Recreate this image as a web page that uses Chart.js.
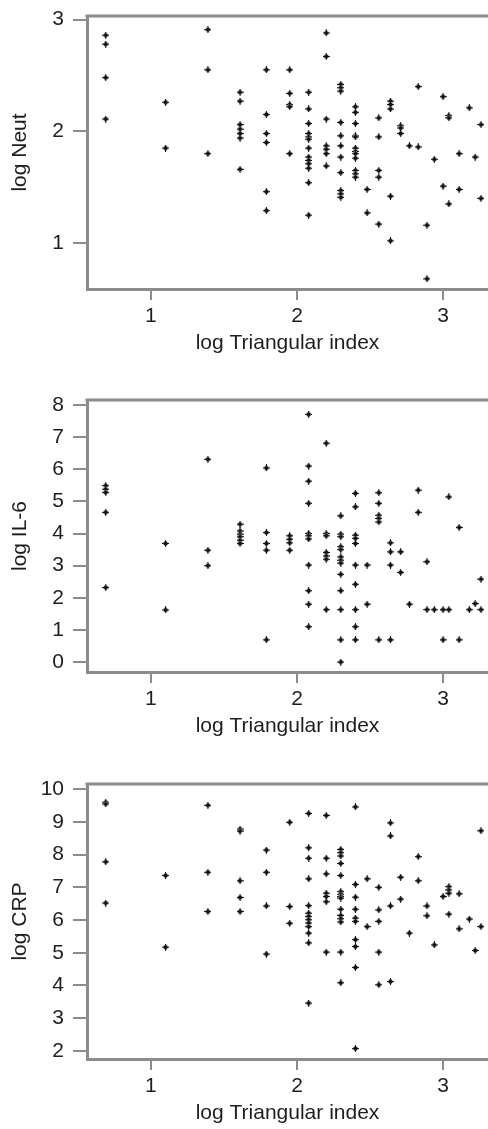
<!DOCTYPE html>
<html>
<head>
<meta charset="utf-8">
<script src="https://cdn.jsdelivr.net/npm/chart.js@4.4.1/dist/chart.umd.min.js"></script>
<style>
  html, body { margin: 0; padding: 0; background: #fff; }
  body { width: 488px; height: 1129px; position: relative; overflow: hidden; }
  canvas { position: absolute; left: 0; }
</style>
</head>
<body>
<canvas id="neut" width="488" height="364" style="top:0px"></canvas>
<canvas id="il6" width="488" height="383" style="top:364px"></canvas>
<canvas id="crp" width="488" height="387" style="top:747px"></canvas>
<script>
// x: log triangular index (one column of points per value)
const triIndex = [0.69, 1.10, 1.39, 1.61, 1.79, 1.95, 2.08, 2.20, 2.30, 2.40, 2.48, 2.56,
  2.64, 2.71, 2.77, 2.83, 2.89, 2.94, 3.00, 3.04, 3.11, 3.18, 3.22, 3.26];

// y values
const logNeut = [
  [2.86, 2.78, 2.48, 2.11],
  [2.26, 1.85],
  [2.91, 2.55, 1.80],
  [2.35, 2.27, 2.06, 2.02, 1.98, 1.94, 1.66],
  [2.55, 2.15, 1.98, 1.90, 1.46, 1.29],
  [2.55, 2.34, 2.24, 2.22, 1.80],
  [2.35, 2.20, 2.07, 1.98, 1.95, 1.93, 1.85, 1.77, 1.74, 1.71, 1.67, 1.54, 1.25],
  [2.88, 2.67, 2.11, 1.87, 1.84, 1.80, 1.69],
  [2.42, 2.39, 2.36, 2.08, 1.96, 1.87, 1.77, 1.63, 1.47, 1.44, 1.41],
  [2.22, 2.17, 2.07, 1.96, 1.95, 1.85, 1.82, 1.80, 1.76, 1.65, 1.62, 1.59],
  [1.48, 1.27],
  [2.12, 1.95, 1.65, 1.59, 1.17],
  [2.27, 2.24, 2.20, 1.42, 1.02],
  [2.05, 2.03, 1.98],
  [1.87],
  [2.40, 1.86],
  [1.16, 0.68],
  [1.75],
  [2.31, 1.51],
  [2.14, 2.12, 1.35],
  [1.80, 1.48],
  [2.21],
  [1.77],
  [2.06, 1.40]
];

const logIL6 = [
  [5.49, 5.38, 5.28, 4.66, 2.32],
  [3.69, 1.62],
  [6.31, 3.48, 3.00],
  [4.29, 4.08, 3.98, 3.90, 3.79, 3.69],
  [6.04, 4.03, 3.69, 3.48, 0.69],
  [3.93, 3.82, 3.71, 3.48],
  [7.71, 6.10, 5.63, 4.94, 4.00, 3.93, 3.83, 3.02, 2.22, 1.80, 1.10],
  [6.81, 4.00, 3.93, 3.41, 3.30, 3.20, 1.63],
  [4.55, 3.98, 3.90, 3.59, 3.50, 3.27, 3.17, 3.08, 2.73, 2.22, 1.63, 0.69, 0.00],
  [5.25, 4.83, 3.95, 3.85, 3.69, 3.02, 2.42, 1.63, 1.10, 0.69],
  [3.02, 1.80],
  [5.27, 4.94, 4.57, 4.47, 4.36, 0.69],
  [3.71, 3.43, 3.02, 0.69],
  [3.43, 2.79],
  [1.80],
  [5.35, 4.66],
  [3.12, 1.63],
  [1.63],
  [1.63, 0.69],
  [5.14, 1.63],
  [4.19, 0.69],
  [1.63],
  [1.82],
  [2.58, 1.63]
];

const logCRP = [
  [9.60, 9.55, 7.78, 6.52],
  [7.36, 5.17],
  [9.51, 7.46, 6.26],
  [8.78, 8.72, 7.20, 6.69, 6.26],
  [8.14, 7.46, 6.43, 4.96],
  [8.99, 6.41, 5.90],
  [9.26, 8.21, 7.89, 7.26, 6.44, 6.21, 6.11, 6.01, 5.91, 5.80, 5.60, 5.30, 3.46],
  [9.20, 7.89, 7.41, 6.82, 6.72, 6.56, 5.02],
  [8.16, 8.06, 7.96, 7.73, 7.36, 6.87, 6.79, 6.72, 6.67, 6.33, 6.14, 6.04, 5.94, 5.02, 4.08],
  [9.46, 7.09, 6.70, 6.33, 6.06, 5.96, 5.40, 5.19, 4.55, 2.07],
  [7.26, 5.80],
  [7.00, 6.31, 5.96, 5.02, 4.02],
  [8.97, 8.57, 6.43, 4.12],
  [7.31, 6.64],
  [5.60],
  [7.94, 7.20],
  [6.43, 6.13],
  [5.24],
  [6.72],
  [7.02, 6.92, 6.82, 6.18],
  [6.80, 5.73],
  [6.03],
  [5.07],
  [8.73, 5.80]
];

const xTicks = [1, 2, 3];
const neutTicks = [1, 2, 3];
const il6Ticks = [0, 1, 2, 3, 4, 5, 6, 7, 8];
const crpTicks = [2, 3, 4, 5, 6, 7, 8, 9, 10];

const axisGrey = "#8c8c8c";
const textColor = "#1e1e1e";
const font = { family: "'Liberation Sans', Arial, sans-serif", size: 21 };

// small bold "+" marker, drawn pixel by pixel
const markerRows = [
  "...X...",
  "..xXx..",
  ".xXXXx.",
  "XXXXXXX",
  ".xXXXx.",
  "..xXx..",
  "...X...",
];
const marker = document.createElement("canvas");
marker.width = 7;
marker.height = 7;
const mctx = marker.getContext("2d");
markerRows.forEach((row, r) => {
  [...row].forEach((c, col) => {
    if (c === ".") return;
    mctx.fillStyle = c === "X" ? "#111" : "#9a9a9a";
    mctx.fillRect(col, r, 1, 1);
  });
});

const topEdge = {
  id: "topEdge",
  afterDraw(chart) {
    const { ctx, chartArea } = chart;
    ctx.save();
    ctx.strokeStyle = axisGrey;
    ctx.lineWidth = 3;
    ctx.beginPath();
    ctx.moveTo(chartArea.left - 1.5, chartArea.top);
    ctx.lineTo(chartArea.right, chartArea.top);
    ctx.stroke();
    ctx.restore();
  },
};

function makeChart(id, values, yTicks, yTitle, yMin, yMax, padTop) {
  const points = triIndex.flatMap((x, i) => values[i].map((y) => ({ x, y })));
  return new Chart(document.getElementById(id), {
    type: "scatter",
    data: {
      datasets: [{ data: points, pointStyle: marker, pointRadius: 3 }],
    },
    plugins: [topEdge],
    options: {
      responsive: false,
      animation: false,
      layout: { autoPadding: false, padding: { top: padTop, left: 0, right: 0, bottom: 0 } },
      plugins: { legend: { display: false }, tooltip: { enabled: false } },
      scales: {
        x: {
          type: "linear",
          min: 0.562,
          max: 3.308,
          afterBuildTicks: (s) => { s.ticks = xTicks.map((v) => ({ value: v })); },
          afterFit: (s) => { s.height = 75; s.paddingLeft = 0; s.paddingRight = 0; },
          grid: { drawOnChartArea: false, tickLength: 11, color: axisGrey, lineWidth: 2 },
          border: { color: axisGrey, width: 3 },
          ticks: { color: textColor, font, padding: 4, maxRotation: 0 },
          title: { display: true, text: "log Triangular index", color: textColor, font, padding: { top: 0, bottom: 8 } },
        },
        y: {
          type: "linear",
          min: yMin,
          max: yMax,
          afterBuildTicks: (s) => { s.ticks = yTicks.map((v) => ({ value: v })); },
          afterFit: (s) => { s.width = 87; s.paddingTop = 0; s.paddingBottom = 0; },
          grid: { drawOnChartArea: false, tickLength: 14, color: axisGrey, lineWidth: 2 },
          border: { color: axisGrey, width: 3 },
          ticks: { color: textColor, font, padding: 9 },
          title: { display: true, text: yTitle, color: textColor, font, padding: { top: 8, bottom: 0 } },
        },
      },
    },
  });
}

makeChart("neut", logNeut, neutTicks, "log Neut", 0.589, 3.032, 16);
makeChart("il6", logIL6, il6Ticks, "log IL-6", -0.31, 8.156, 36);
makeChart("crp", logCRP, crpTicks, "log CRP", 1.75, 10.16, 37);
</script>
</body>
</html>
